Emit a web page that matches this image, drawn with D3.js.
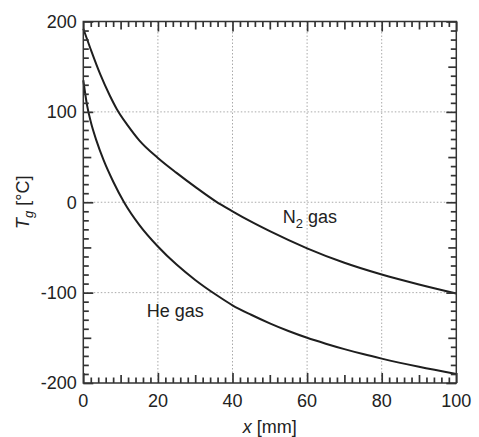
<!DOCTYPE html>
<html>
<head>
<meta charset="utf-8">
<script src="https://cdn.jsdelivr.net/npm/d3@7"></script>
<style>
  html, body { margin: 0; padding: 0; background: #fff; }
  svg { display: block; font-family: "Liberation Sans", Arial, sans-serif; }
</style>
</head>
<body>
<svg id="chart" width="479" height="437"></svg>
<script>
// Gas temperature along the channel for two carrier gases
const xN2 = [0, 2, 4.5, 7, 9, 12, 15, 20, 25, 30, 35.5, 40, 45, 50, 60, 70, 80, 90, 100];
const tN2 = [192, 169, 142, 119, 103, 84.5, 68.5, 49, 32.5, 17, 1, -10, -21.5, -32, -51, -67, -80, -91, -101];

const xHe = [0, 1, 2, 3.5, 5.5, 8, 11, 15, 20, 25, 30, 36, 40, 45, 50, 55, 60, 65, 70, 75, 80, 90, 100];
const tHe = [135, 107.5, 89, 68.5, 46, 23, -0.5, -25, -49, -69, -86, -103.5, -114, -124.5, -134, -142.5, -150, -156.5, -162.5, -168, -173, -182, -190];

const xTicks = [0, 20, 40, 60, 80, 100];
const yTicks = [-200, -100, 0, 100, 200];

const seriesLabels = [
  { name: "N", sub: "2", rest: " gas", x: 53.5, y: -22.5 },
  { name: "He gas", sub: "", rest: "", x: 17, y: -127.5 }
];

const svg = d3.select("#chart");
const W = 479, H = 437;
const plot = { left: 83.3, right: 456.3, top: 21.5, bottom: 383 };
const pw = plot.right - plot.left, ph = plot.bottom - plot.top;

const x = d3.scaleLinear().domain([0, 100]).range([plot.left, plot.right]);
const y = d3.scaleLinear().domain([-200, 200]).range([plot.bottom, plot.top]);

svg.append("rect").attr("width", W).attr("height", H).attr("fill", "#fff");

// dotted grid at the major ticks
const grid = svg.append("g").attr("stroke", "#aaa").attr("stroke-width", 1)
  .attr("stroke-dasharray", "1.5,2");
xTicks.filter(v => v > 0 && v < 100).forEach(v => {
  grid.append("line").attr("x1", x(v)).attr("x2", x(v))
    .attr("y1", plot.top).attr("y2", plot.bottom);
});
yTicks.filter(v => v > -200 && v < 200).forEach(v => {
  grid.append("line").attr("x1", plot.left).attr("x2", plot.right)
    .attr("y1", y(v)).attr("y2", y(v));
});

// curves
const lineGen = d3.line().curve(d3.curveMonotoneX)
  .x(d => x(d[0])).y(d => y(d[1]));
const curves = [d3.zip(xN2, tN2), d3.zip(xHe, tHe)];
svg.append("g").selectAll("path").data(curves).join("path")
  .attr("d", lineGen).attr("fill", "none").attr("stroke", "#1e1e1e")
  .attr("stroke-width", 2);

const axisColor = "#333";

// inward ticks on all four sides, three lengths each
const xMinor = d3.range(0, 101, 2).filter(v => v % 10 !== 0);
const xMid = d3.range(10, 100, 20);
const yMinor = d3.range(-200, 201, 10).filter(v => v % 50 !== 0);
const yMid = [-150, -50, 50, 150];
const tickSets = [[xMinor, yMinor, 5.5], [xMid, yMid, 8], [xTicks, yTicks, 10]];

function styleAxis(g) {
  g.select(".domain").remove();
  g.selectAll("line").attr("stroke", axisColor).attr("stroke-width", 1.7);
  g.selectAll("text").remove();
}
tickSets.forEach(([xv, yv, len]) => {
  svg.append("g").attr("transform", `translate(0,${plot.bottom})`)
    .call(d3.axisBottom(x).tickValues(xv).tickSize(-len)).call(styleAxis);
  svg.append("g").attr("transform", `translate(0,${plot.top})`)
    .call(d3.axisTop(x).tickValues(xv).tickSize(-len)).call(styleAxis);
  svg.append("g").attr("transform", `translate(${plot.left},0)`)
    .call(d3.axisLeft(y).tickValues(yv).tickSize(-len)).call(styleAxis);
  svg.append("g").attr("transform", `translate(${plot.right},0)`)
    .call(d3.axisRight(y).tickValues(yv).tickSize(-len)).call(styleAxis);
});

// frame
svg.append("rect").attr("x", plot.left).attr("y", plot.top)
  .attr("width", pw).attr("height", ph)
  .attr("fill", "none").attr("stroke", axisColor).attr("stroke-width", 1.5);

// tick labels
const fs = 18;
svg.append("g").selectAll("text").data(xTicks).join("text")
  .attr("x", d => x(d)).attr("y", 406.5)
  .attr("text-anchor", "middle").attr("font-size", fs).attr("fill", "#222")
  .text(d => d);
svg.append("g").selectAll("text").data(yTicks).join("text")
  .attr("x", plot.left - 6.5).attr("y", d => y(d)).attr("dy", "0.36em")
  .attr("text-anchor", "end").attr("font-size", fs).attr("fill", "#222")
  .text(d => d);

// axis titles
const xt = svg.append("text").attr("x", plot.left + pw / 2).attr("y", 433)
  .attr("text-anchor", "middle").attr("font-size", fs).attr("fill", "#222");
xt.append("tspan").attr("font-style", "italic").text("x");
xt.append("tspan").text(" [mm]");

const yt = svg.append("text")
  .attr("transform", `translate(29,${plot.top + ph / 2}) rotate(-90)`)
  .attr("text-anchor", "middle").attr("font-size", fs).attr("fill", "#222");
yt.append("tspan").attr("font-style", "italic").text("T");
yt.append("tspan").attr("font-style", "italic").attr("font-size", 13)
  .attr("dy", 4).text("g");
yt.append("tspan").attr("dy", -4).text(" [°C]");

// series labels
seriesLabels.forEach(s => {
  const t = svg.append("text").attr("x", x(s.x)).attr("y", y(s.y))
    .attr("font-size", fs).attr("fill", "#222");
  t.append("tspan").text(s.name);
  if (s.sub) {
    t.append("tspan").attr("font-size", 13).attr("dy", 5).text(s.sub);
    t.append("tspan").attr("dy", -5).text(s.rest);
  }
});
</script>
</body>
</html>
